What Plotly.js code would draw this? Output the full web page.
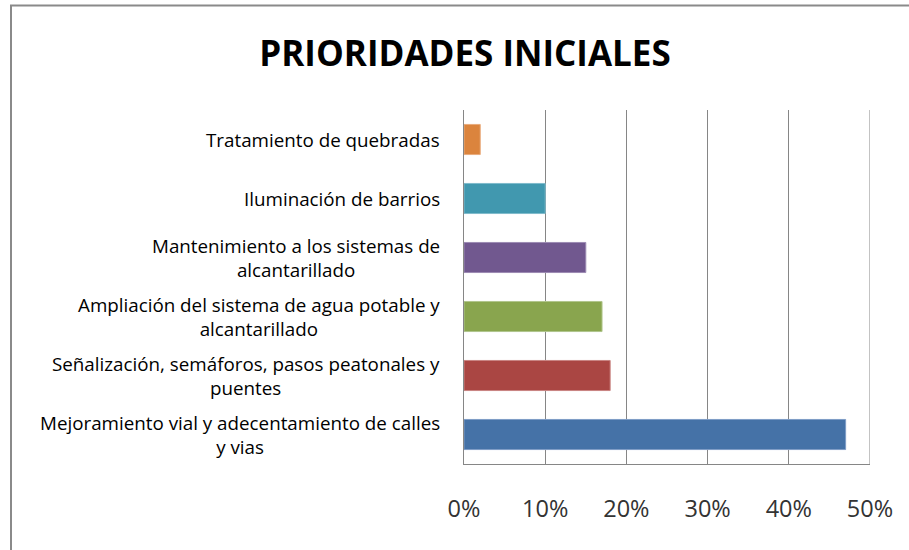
<!DOCTYPE html>
<html>
<head>
<meta charset="utf-8">
<script src="https://cdn.plot.ly/plotly-3.0.1.min.js"></script>
<style>
  html, body { margin: 0; padding: 0; background: #fff; }
  #chart { width: 909px; height: 550px; }
</style>
</head>
<body>
<div id="chart"></div>
<script>
// categories from bottom to top, as plotted
const categories = [
    'Mejoramiento vial y adecentamiento de calles<br>y vias',
    'Señalización, semáforos, pasos peatonales y<br>puentes',
    'Ampliación del sistema de agua potable y<br>alcantarillado',
    'Mantenimiento a los sistemas de<br>alcantarillado',
    'Iluminación de barrios',
    'Tratamiento de quebradas'
];
const values = [0.47, 0.18, 0.17, 0.15, 0.10, 0.02];
const barColors = ['#4572A7', '#AA4643', '#89A54E', '#71588F', '#4198AF', '#DB843D'];
const edgeColors = ['#7E9CC6', '#C98482', '#B0C58C', '#9C8AB3', '#7FBACB', '#E9AC7C'];
const tickVals = [0, 0.1, 0.2, 0.3, 0.4, 0.5];
const tickText = ['0%', '10%', '20%', '30%', '40%', '50%'];

const ids = categories.map((c, i) => i);

const trace = {
    type: 'bar',
    orientation: 'h',
    x: values,
    y: ids,
    width: 0.51,
    marker: { color: barColors, line: { color: edgeColors, width: 1 } },
    hoverinfo: 'x+text',
    text: categories.map(c => c.replace('<br>', ' ')),
    textposition: 'none'
};

// centred, wrapped category labels (Excel style)
const labels = categories.map((c, i) => ({
    xref: 'paper', yref: 'y',
    x: 0, y: i,
    xanchor: 'right', yanchor: 'middle',
    xshift: -22,
    align: 'center',
    showarrow: false,
    text: c,
    font: { family: 'Open Sans, sans-serif', size: 18.8, color: '#000' }
}));

const layout = {
    width: 909,
    height: 550,
    margin: { l: 464, r: 39, t: 110, b: 86 },
    paper_bgcolor: '#fff',
    plot_bgcolor: '#fff',
    showlegend: false,
    title: {
        text: '<b>PRIORIDADES INICIALES</b>',
        xref: 'container', x: 465 / 909, xanchor: 'center',
        font: { family: 'Open Sans, sans-serif', size: 35, color: '#000' },
        y: 1 - 54 / 550, yanchor: 'middle'
    },
    xaxis: {
        range: [0, 0.5],
        tickvals: tickVals,
        ticktext: tickText,
        showgrid: true,
        gridcolor: '#868686',
        gridwidth: 1,
        showline: true,
        linecolor: '#868686',
        linewidth: 1,
        zeroline: false,
        ticks: '',
        ticklabelstandoff: 24,
        tickfont: { family: 'Open Sans, sans-serif', size: 23.5, color: '#333' },
        fixedrange: true
    },
    yaxis: {
        range: [-0.5, 5.5],
        showticklabels: false,
        showgrid: false,
        showline: true,
        linecolor: '#868686',
        linewidth: 1,
        zeroline: false,
        ticks: '',
        fixedrange: true
    },
    annotations: labels,
    shapes: [{
        // right edge gridline at 50%
        type: 'line', xref: 'x', yref: 'paper',
        x0: 0.5, x1: 0.5, y0: 0, y1: 1,
        line: { color: '#868686', width: 1 },
        layer: 'below'
    }, {
        // chart frame
        type: 'rect', xref: 'paper', yref: 'paper',
        x0: (11 - 464) / 406, x1: (930 - 464) / 406,
        y0: (464 - 570) / 354, y1: (464 - 5.5) / 354,
        line: { color: '#8a8a8a', width: 2 },
        layer: 'above'
    }]
};

Plotly.newPlot('chart', [trace], layout, { displayModeBar: false });
</script>
</body>
</html>
